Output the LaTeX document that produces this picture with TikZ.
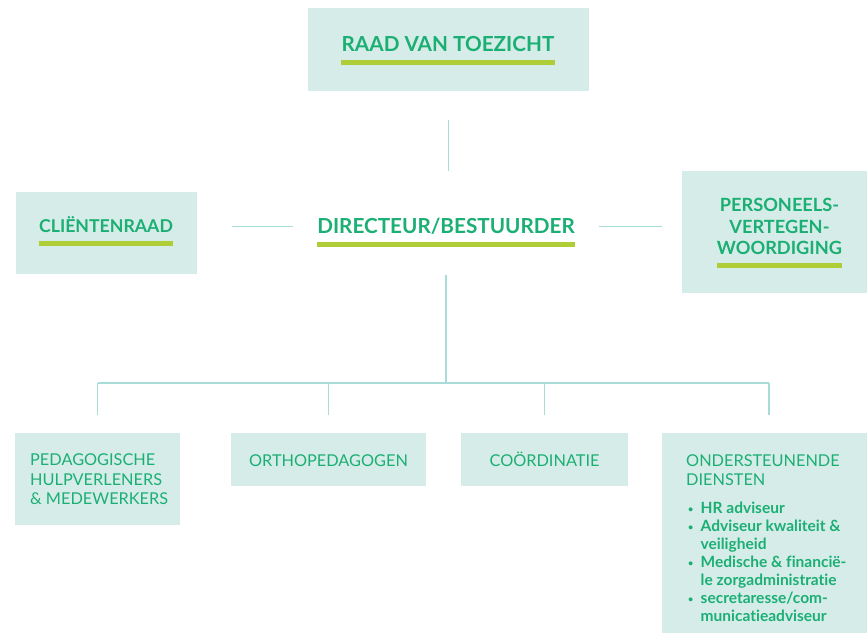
\documentclass[tikz,border=0pt]{standalone}
\usepackage{fontspec}
\setmainfont[Ligatures=CommonOff]{Lato}
\usepackage{xcolor}
\definecolor{vlak}{HTML}{D6ECE9}
\definecolor{groen}{HTML}{1BAF74}
\definecolor{limoen}{HTML}{AECD36}
\definecolor{lijnkleur}{HTML}{A8DCD9}
\newcommand{\bol}{\makebox[12.5pt][l]{\raisebox{1pt}{\fontsize{9}{9}\selectfont\textbullet}}}
\newcommand{\inspring}{\hspace*{12.5pt}}

\begin{document}
\begin{tikzpicture}[x=1pt,y=-1pt,
    vak/.style={fill=vlak,inner sep=0pt,anchor=north west},
    kop/.style={text=groen,font=\bfseries\fontsize{20.7}{24}\selectfont,inner sep=0pt,text depth=0pt,anchor=base},
    tekst/.style={text=groen,font=\fontsize{16.3}{19.5}\selectfont,inner sep=0pt,text depth=0pt,align=left},
    lijst/.style={text=groen,font=\bfseries\fontsize{15.5}{18}\selectfont,inner sep=0pt,align=left,anchor=north west},
    lijn/.style={draw=lijnkleur,line width=1.5pt},
    streep/.style={draw=limoen,line width=4.5pt}]
    \useasboundingbox (0,0) rectangle (867,636);

    % vlakken
    \node[vak,minimum width=281pt,minimum height=83pt] (raad) at (308,8) {};
    \node[vak,minimum width=181pt,minimum height=82pt] (client) at (16,192) {};
    \node[vak,minimum width=194pt,minimum height=122pt] (pers) at (682,171) {};
    \node[vak,minimum width=165pt,minimum height=92pt] (ped) at (15,433) {};
    \node[vak,minimum width=195pt,minimum height=53pt] (ortho) at (231,433) {};
    \node[vak,minimum width=167pt,minimum height=53pt] (coord) at (461,433) {};
    \node[vak,minimum width=214pt,minimum height=200pt] (onder) at (662,433) {};

    % koppen met streep
    \node[kop] (raadtxt) at (448,52) {RAAD VAN TOEZICHT};
    \node[kop] (dir) at (446,234) {DIRECTEUR/BESTUURDER};
    \node[kop,font=\bfseries\fontsize{17.7}{21}\selectfont] (clienttxt) at (106,233) {CLIËNTENRAAD};
    \node[kop,font=\bfseries\fontsize{18.2}{21.5}\selectfont,align=center,anchor=south] (perstxt) at (779.5,255)
        {PERSONEELS-\\VERTEGEN-\\WOORDIGING};
    \foreach \t in {raadtxt,dir,clienttxt,perstxt}
        \draw[streep] ([yshift=-10.5pt]\t.south west) -- ([yshift=-10.5pt]\t.south east);

    % onderste rij
    \node[tekst,anchor=north west] (pedtxt) at (30,453.5) {PEDAGOGISCHE\\HULPVERLENERS\\\& MEDEWERKERS};
    \node[tekst,anchor=base] (orthotxt) at (328.5,466) {ORTHOPEDAGOGEN};
    \node[tekst,anchor=base] (coordtxt) at (544.5,466) {COÖRDINATIE};
    \node[tekst,anchor=north west] (ondertxt) at (686,454) {ONDERSTEUNENDE\\DIENSTEN};
    \node[lijst] (onderlijst) at (688,501.5) {\bol HR adviseur\\
        \bol Adviseur kwaliteit \&\\ \inspring veiligheid\\
        \bol Medische \& financië-\\ \inspring le zorgadministratie\\
        \bol secretaresse/com-\\ \inspring municatieadviseur};

    % lijnen
    \coordinate (bus) at (446,383);
    \draw[lijn,shorten <=29pt,shorten >=47pt] (raad.south) -- (raad.south |- dir.north);
    \draw[lijn,shorten <=35pt,shorten >=24pt] (client.east |- dir.center) -- (dir.west);
    \draw[lijn,shorten <=24pt,shorten >=20pt] (dir.east) -- (pers.west |- dir.center);
    \draw[lijn,shorten <=41pt] (dir.south) -- (bus);
    \draw[lijn] (ped.north |- bus) -- (onder.north |- bus);
    \foreach \n in {ped,ortho,coord,onder}
        \draw[lijn,shorten >=18pt] (\n.north |- bus) -- (\n.north);
\end{tikzpicture}
\end{document}
